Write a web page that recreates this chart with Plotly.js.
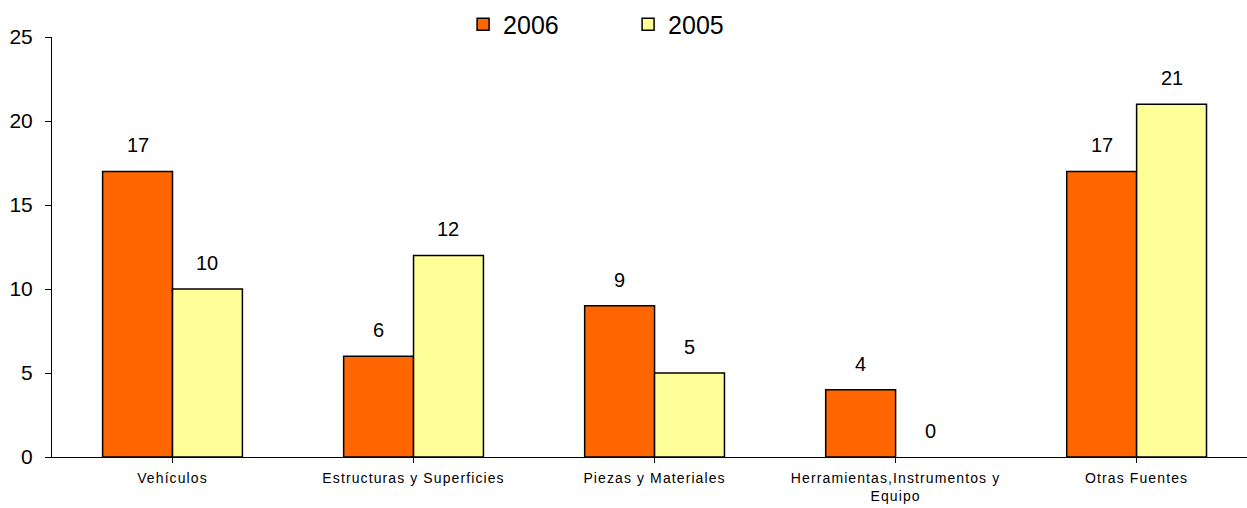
<!DOCTYPE html>
<html>
<head>
<meta charset="utf-8">
<script src="https://cdn.plot.ly/plotly-3.0.1.min.js"></script>
<style>
html,body{margin:0;padding:0;background:#fff;}
#chart{width:1247px;height:508px;}
#chart .xtick text{letter-spacing:1.1px;}
</style>
</head>
<body>
<div id="chart"></div>
<script>
const categories = ["Vehículos", "Estructuras y Superficies", "Piezas y Materiales", "Herramientas,Instrumentos y<br>Equipo", "Otras Fuentes"];
const values2006 = [17, 6, 9, 4, 17];
const values2005 = [10, 12, 5, 0, 21];
const yTicks = [0, 5, 10, 15, 20, 25];

const idx = categories.map((c, i) => i);
const barW = 0.29;
const lineW = v => v.map(d => d === 0 ? 0 : 1.5);

const traces = [
  {type: "bar", name: "2006", x: idx, y: values2006, width: barW, offset: -barW,
   marker: {color: "#FF6600", line: {color: "#000", width: lineW(values2006)}}, hoverinfo: "y"},
  {type: "bar", name: "2005", x: idx, y: values2005, width: barW, offset: 0,
   marker: {color: "#FFFF99", line: {color: "#000", width: lineW(values2005)}}, hoverinfo: "y"}
];

const labelFont = {size: 20, color: "#000", family: "Liberation Sans, Arial, sans-serif"};
const annotations = [];
idx.forEach(i => {
  annotations.push({x: i - barW/2, y: values2006[i], text: String(values2006[i]), showarrow: false,
    yanchor: "bottom", yshift: 13, font: labelFont});
  annotations.push({x: i + barW/2, y: values2005[i], text: String(values2005[i]), showarrow: false,
    yanchor: "bottom", yshift: 13, font: labelFont});
});

const layout = {
  width: 1247, height: 508,
  margin: {l: 52, r: 0, t: 37, b: 51},
  paper_bgcolor: "#fff", plot_bgcolor: "#fff",
  font: {family: "Liberation Sans, Arial, sans-serif", color: "#000"},
  showlegend: true,
  legend: {orientation: "h", x: 0.344, xanchor: "left", y: 1.03, yanchor: "middle",
    font: {size: 25}, entrywidth: 120, entrywidthmode: "pixels", itemwidth: 30, bgcolor: "rgba(0,0,0,0)"},
  xaxis: {
    range: [-0.5, 4.458], tickmode: "array", tickvals: idx, ticktext: categories,
    ticks: "outside", tickson: "boundaries", ticklen: 5, tickcolor: "#000",
    showline: true, linecolor: "#000", linewidth: 1, showgrid: false, zeroline: false,
    tickfont: {size: 14}, ticklabelstandoff: 3, fixedrange: true
  },
  yaxis: {
    range: [0, 25], tickmode: "array", tickvals: yTicks,
    ticks: "outside", ticklen: 6, tickcolor: "#000",
    showline: true, linecolor: "#000", linewidth: 1, showgrid: false, zeroline: false,
    tickfont: {size: 21}, ticklabelstandoff: 8, fixedrange: true
  },
  annotations: annotations
};

Plotly.newPlot("chart", traces, layout, {displayModeBar: false, staticPlot: true});
</script>
</body>
</html>
